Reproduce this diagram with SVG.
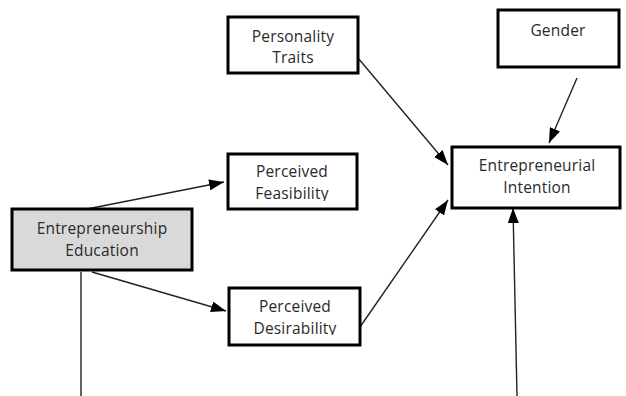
<svg xmlns="http://www.w3.org/2000/svg" width="626" height="396" viewBox="0 0 626 396">
  <defs>
    <style>
      .box { fill: #ffffff; stroke: #000000; stroke-width: 3; }
      .box.shaded { fill: #d9d9d9; }
      .lbl { font-family: "Open Sans", "DejaVu Sans", sans-serif; font-size: 15.5px; letter-spacing: 0.2px; fill: #2a2a2a; text-anchor: middle; }
      .edge { fill: none; stroke: #222222; stroke-width: 1.4; }
    </style>
    <marker id="arrow" viewBox="0 0 15 11" refX="15" refY="5.5" markerWidth="15" markerHeight="11" markerUnits="userSpaceOnUse" orient="auto">
      <path d="M0,0 L15,5.5 L0,11 Z" fill="#000000"/>
    </marker>
    <!-- label areas cut just below the baseline of the second line -->
    <clipPath id="clipFeas"><rect x="228" y="153" width="130" height="48"/></clipPath>
    <clipPath id="clipDes"><rect x="229" y="287" width="132" height="48"/></clipPath>
  </defs>

  <rect width="626" height="396" fill="#ffffff"/>

  <g id="connectors">
    <line class="edge" x1="87" y1="209" x2="224" y2="182" marker-end="url(#arrow)"/>
    <line class="edge" x1="92" y1="272" x2="226" y2="311" marker-end="url(#arrow)"/>
    <line class="edge" x1="81" y1="272" x2="81" y2="396"/>
    <line class="edge" x1="517" y1="396" x2="513" y2="208" marker-end="url(#arrow)"/>
    <line class="edge" x1="358" y1="58" x2="448" y2="165" marker-end="url(#arrow)"/>
    <line class="edge" x1="360" y1="327" x2="448" y2="200" marker-end="url(#arrow)"/>
    <line class="edge" x1="577" y1="78" x2="549" y2="143" marker-end="url(#arrow)"/>
  </g>

  <g id="entrepreneurship-education">
    <rect class="box shaded" x="12" y="209" width="180" height="61"/>
    <text class="lbl" x="102" y="234">Entrepreneurship</text>
    <text class="lbl" x="102" y="256">Education</text>
  </g>

  <g id="personality-traits">
    <rect class="box" x="228" y="17" width="130" height="56"/>
    <text class="lbl" x="293" y="42">Personality</text>
    <text class="lbl" x="293" y="63">Traits</text>
  </g>

  <g id="gender">
    <rect class="box" x="498" y="10" width="121" height="57"/>
    <text class="lbl" x="558" y="36">Gender</text>
  </g>

  <g id="perceived-feasibility">
    <rect class="box" x="228" y="154" width="129" height="55"/>
    <g clip-path="url(#clipFeas)">
      <text class="lbl" x="292" y="177">Perceived</text>
      <text class="lbl" x="292" y="199">Feasibility</text>
    </g>
  </g>

  <g id="perceived-desirability">
    <rect class="box" x="229" y="288" width="131" height="57"/>
    <g clip-path="url(#clipDes)">
      <text class="lbl" x="295" y="312">Perceived</text>
      <text class="lbl" x="295" y="334">Desirability</text>
    </g>
  </g>

  <g id="entrepreneurial-intention">
    <rect class="box" x="452" y="147" width="168" height="61"/>
    <text class="lbl" x="537" y="171">Entrepreneurial</text>
    <text class="lbl" x="537" y="193">Intention</text>
  </g>
</svg>
